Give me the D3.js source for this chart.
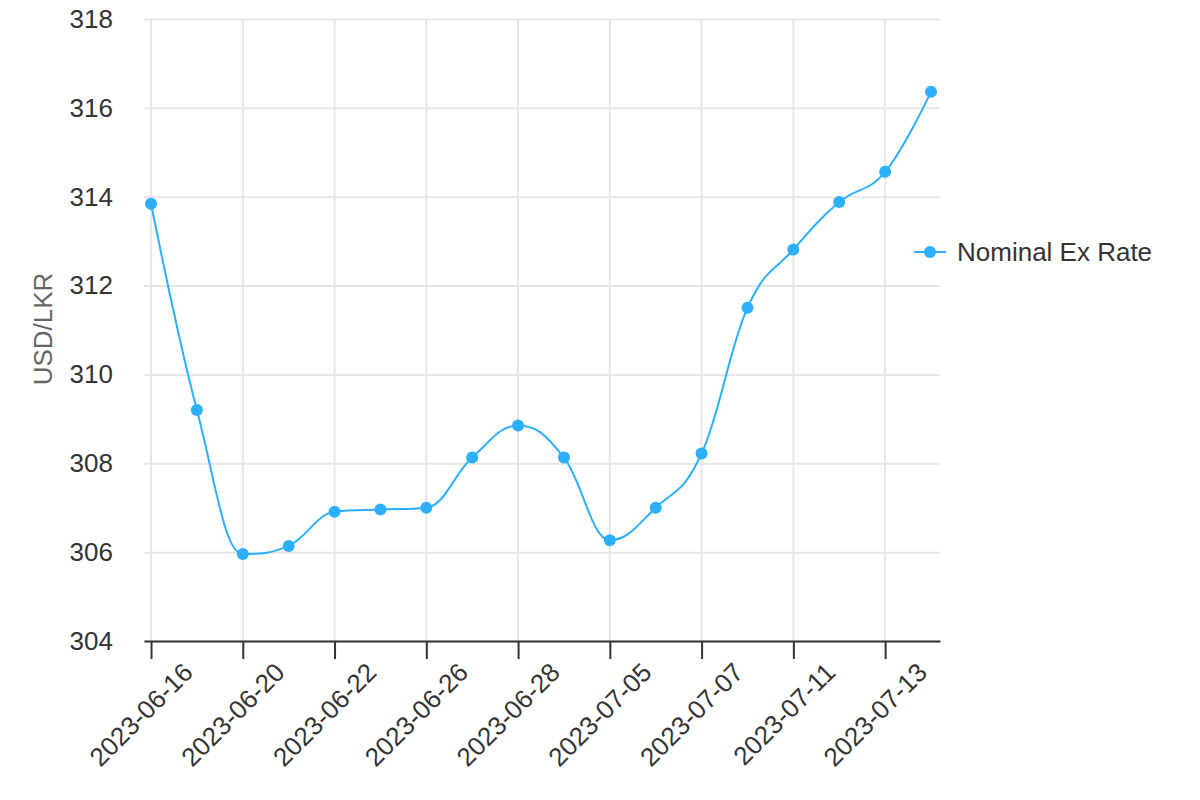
<!DOCTYPE html>
<html>
<head>
    <meta charset='utf-8'>
    <script src='https://d3js.org/d3.v7.min.js'></script>
    <style>
        html, body { margin: 0; padding: 0; background: #fff; }
        svg { display: block; font-family: 'Liberation Sans', Arial, Helvetica, sans-serif; }
    </style>
</head>
<body>
<svg width='1200' height='800'></svg>
<script>

    // the data, one value per business day

    var dates = ['2023-06-16', '2023-06-19', '2023-06-20', '2023-06-21', '2023-06-22', '2023-06-23',
        '2023-06-26', '2023-06-27', '2023-06-28', '2023-06-29', '2023-07-05', '2023-07-06',
        '2023-07-07', '2023-07-10', '2023-07-11', '2023-07-12', '2023-07-13', '2023-07-14'];
    var rates = [313.84, 309.20, 305.96, 306.14, 306.91, 306.96,
        307.00, 308.13, 308.85, 308.13, 306.27, 307.00,
        308.22, 311.50, 312.81, 313.88, 314.56, 316.36];
    var yTicks = [304, 306, 308, 310, 312, 314, 316, 318];
    var seriesName = 'Nominal Ex Rate';
    var yTitle = 'USD/LKR';

    var svg = d3.select('svg');

    // plot area (window.top is taken, so keep these in an object)
    var plot = { left: 144, right: 940, top: 19, bottom: 641 };
    var color = '#2caffe';
    var fontSize = 26;

    // category index -> x; a little padding on both ends like the original
    var x = d3.scaleLinear()
        .domain([-0.153, dates.length - 1 + 0.196])
        .range([plot.left, plot.right]);

    var y = d3.scaleLinear()
        .domain([304, 318])
        .range([plot.bottom, plot.top]);

    // spline curve the way highcharts draws it (smoothing 1.5, with overshoot correction)
    function Spline(context) { this._context = context; }
    Spline.prototype = {
        areaStart: function () { this._line = 0; },
        areaEnd: function () { this._line = NaN; },
        lineStart: function () { this._xs = []; this._ys = []; },
        point: function (px, py) { this._xs.push(+px); this._ys.push(+py); },
        lineEnd: function () {
            var xs = this._xs, ys = this._ys, n = xs.length, ctx = this._context;
            if (!n) return;
            var s = 1.5, den = s + 1;
            var lx = [], ly = [], rx = [], ry = [];
            for (var i = 0; i < n; i++) {
                lx[i] = rx[i] = xs[i];
                ly[i] = ry[i] = ys[i];
                if (i > 0 && i < n - 1) {
                    var px = xs[i], py = ys[i];
                    var ax = xs[i - 1], ay = ys[i - 1], bx = xs[i + 1], by = ys[i + 1];
                    var lcx = (s * px + ax) / den, lcy = (s * py + ay) / den;
                    var rcx = (s * px + bx) / den, rcy = (s * py + by) / den;
                    if (rcx !== lcx) {
                        var corr = ((rcy - lcy) * (rcx - px)) / (rcx - lcx) + py - rcy;
                        lcy += corr; rcy += corr;
                        if (lcy > ay && lcy > py) { lcy = Math.max(ay, py); rcy = 2 * py - lcy; }
                        else if (lcy < ay && lcy < py) { lcy = Math.min(ay, py); rcy = 2 * py - lcy; }
                        if (rcy > by && rcy > py) { rcy = Math.max(by, py); lcy = 2 * py - rcy; }
                        else if (rcy < by && rcy < py) { rcy = Math.min(by, py); lcy = 2 * py - rcy; }
                    }
                    lx[i] = lcx; ly[i] = lcy; rx[i] = rcx; ry[i] = rcy;
                }
            }
            ctx.moveTo(xs[0], ys[0]);
            for (var j = 1; j < n; j++) {
                ctx.bezierCurveTo(rx[j - 1], ry[j - 1], lx[j], ly[j], xs[j], ys[j]);
            }
        }
    };
    function curveSpline(context) { return new Spline(context); }

    // horizontal grid + y labels

    var yAxis = svg.append('g')
        .attr('transform', 'translate(' + plot.left + ',0)')
        .call(d3.axisLeft(y).tickValues(yTicks).tickSize(-(plot.right - plot.left)).tickPadding(31).tickFormat(d3.format('d')));
    yAxis.select('.domain').remove();
    yAxis.selectAll('line').attr('stroke', '#e6e6e6').attr('stroke-width', 2);
    yAxis.selectAll('text')
        .attr('fill', '#333333')
        .attr('font-size', fontSize)
        .attr('font-family', null);

    // vertical grid on every other category

    var xTickIdx = d3.range(0, dates.length, 2);

    svg.append('g')
        .selectAll('line')
        .data(xTickIdx)
        .enter()
        .append('line')
        .attr('x1', function (d) { return x(d); })
        .attr('x2', function (d) { return x(d); })
        .attr('y1', plot.top)
        .attr('y2', plot.bottom)
        .attr('stroke', '#e6e6e6')
        .attr('stroke-width', 2);

    // x axis with rotated labels

    var xAxis = svg.append('g')
        .attr('transform', 'translate(0,' + plot.bottom + ')')
        .call(d3.axisBottom(x).tickValues(xTickIdx).tickSizeInner(18).tickSizeOuter(0)
            .tickFormat(function (d) { return dates[d]; }));
    xAxis.select('.domain').attr('stroke', '#333333').attr('stroke-width', 2);
    xAxis.selectAll('line').attr('stroke', '#333333').attr('stroke-width', 2);
    xAxis.selectAll('text')
        .attr('x', null).attr('y', null).attr('dy', null)
        .attr('transform', 'translate(43,33) rotate(-45)')
        .attr('text-anchor', 'end')
        .attr('fill', '#333333')
        .attr('font-size', fontSize)
        .attr('font-family', null);

    // y axis title

    svg.append('text')
        .attr('transform', 'translate(52,329) rotate(-90)')
        .attr('text-anchor', 'middle')
        .attr('fill', '#666666')
        .attr('font-size', fontSize)
        .text(yTitle);

    // the line and its markers

    svg.append('path')
        .datum(rates)
        .attr('fill', 'none')
        .attr('stroke', color)
        .attr('stroke-width', 2)
        .attr('stroke-linejoin', 'round')
        .attr('d', d3.line()
            .curve(curveSpline)
            .x(function (d, i) { return x(i); })
            .y(function (d) { return y(d); }));

    svg.append('g')
        .selectAll('circle')
        .data(rates)
        .enter()
        .append('circle')
        .attr('cx', function (d, i) { return x(i); })
        .attr('cy', function (d) { return y(d); })
        .attr('r', 6)
        .attr('fill', color);

    // legend

    var legend = svg.append('g').attr('transform', 'translate(914,252)');
    legend.append('line')
        .attr('x1', 0).attr('x2', 32)
        .attr('stroke', color).attr('stroke-width', 2);
    legend.append('circle')
        .attr('cx', 16).attr('r', 6).attr('fill', color);
    legend.append('text')
        .attr('x', 43).attr('y', 9)
        .attr('fill', '#333333')
        .attr('font-size', fontSize)
        .text(seriesName);

</script>
</body>
</html>
